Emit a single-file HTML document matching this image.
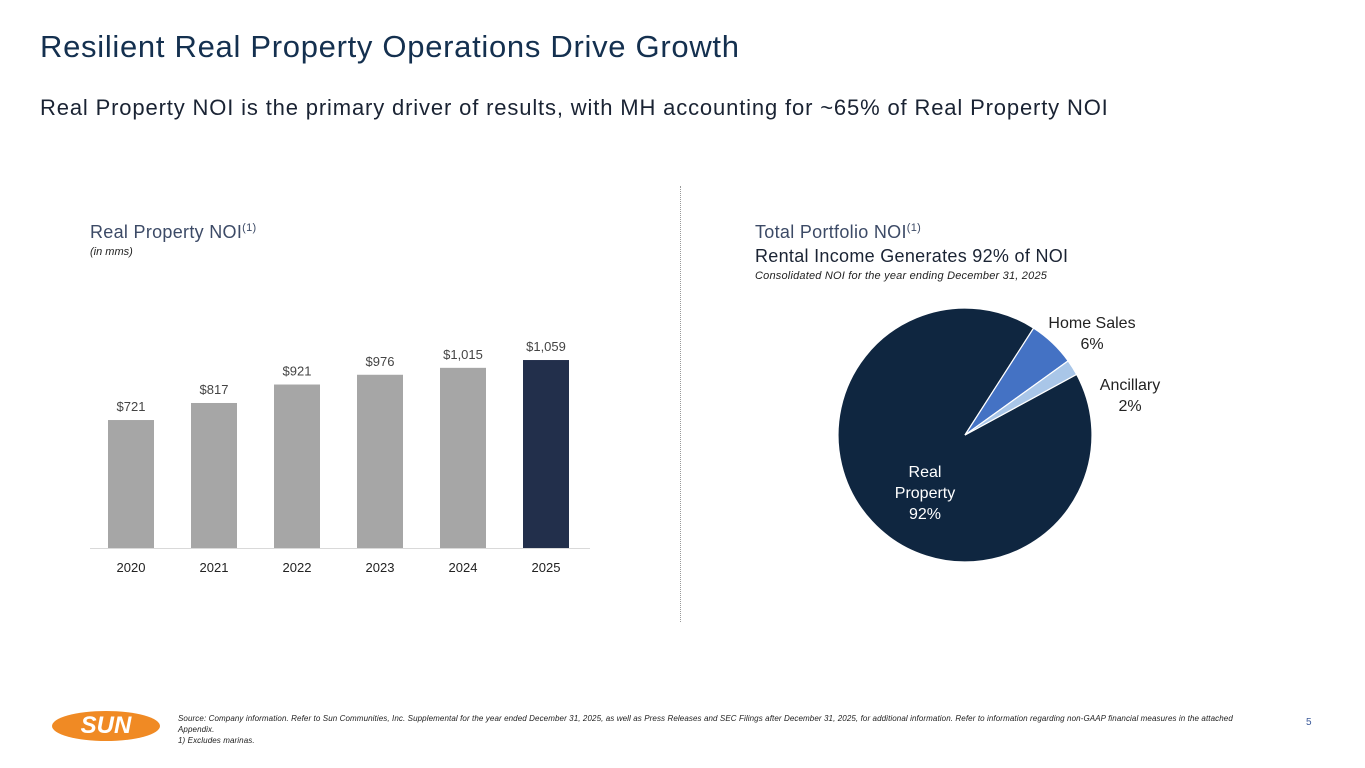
<!DOCTYPE html>
<html><head><meta charset="utf-8"><style>
body{margin:0;width:1365px;height:768px;background:#fff;font-family:"Liberation Sans",sans-serif;overflow:hidden;position:relative}
.a{position:absolute;white-space:nowrap}
</style></head><body>
<div class="a" style="left:40px;top:29px;font-size:31px;letter-spacing:0.7px;color:#14304f">Resilient Real Property Operations Drive Growth</div>
<div class="a" style="left:40px;top:95px;font-size:22px;letter-spacing:0.85px;color:#1a2333">Real Property NOI is the primary driver of results, with MH accounting for ~65% of Real Property NOI</div>
<div class="a" style="left:680px;top:186px;height:436px;border-left:1px dotted #999"></div>
<div class="a" style="left:90px;top:222px;font-size:18px;letter-spacing:0.3px;color:#3c4a66">Real Property NOI<sup style="font-size:11px">(1)</sup></div>
<div class="a" style="left:90px;top:246px;font-size:11px;font-style:italic;color:#222">(in mms)</div>
<div class="a" style="left:755px;top:222px;font-size:18px;letter-spacing:0.3px;color:#3c4a66">Total Portfolio NOI<sup style="font-size:11px">(1)</sup></div>
<div class="a" style="left:755px;top:246px;font-size:18px;letter-spacing:0.3px;color:#1a2333">Rental Income Generates 92% of NOI</div>
<div class="a" style="left:755px;top:270px;font-size:11px;letter-spacing:0.2px;font-style:italic;color:#222">Consolidated NOI for the year ending December 31, 2025</div>
<svg id="c" class="a" style="left:0;top:0" width="1365" height="768"></svg>
<div class="a" style="left:52px;top:711px;width:108px;height:30px;border-radius:50%;background:#f08a24;color:#fff;font-weight:bold;font-size:24px;text-align:center;line-height:30px;font-style:italic">SUN</div>
<div class="a" style="left:178px;top:713px;font-size:8px;letter-spacing:0.1px;font-style:italic;color:#222;line-height:11px;white-space:normal;width:1082px">Source: Company information. Refer to Sun Communities, Inc. Supplemental for the year ended December 31, 2025, as well as Press Releases and SEC Filings after December 31, 2025, for additional information. Refer to information regarding non-GAAP financial measures in the attached Appendix.<br>1) Excludes marinas.</div>
<div class="a" style="left:1306px;top:717px;font-size:10px;color:#3c5a9a">5</div>
<script>
const years=["2020","2021","2022","2023","2024","2025"];
const noi=[721,817,921,976,1015,1059];
const labels=["$721","$817","$921","$976","$1,015","$1,059"];
const pieNames=["Real Property","Home Sales","Ancillary"];
const pieVals=[92,6,2];
const NS="http://www.w3.org/2000/svg",svg=document.getElementById('c');
function mk(t,a){const e=document.createElementNS(NS,t);for(const k in a)e.setAttribute(k,a[k]);svg.appendChild(e);return e;}
const base=548,sc=0.1775;
const y=v=>base-v*sc, x=i=>131+i*83;
const ax=mk('line',{x1:90,x2:590,y1:base+0.5,y2:base+0.5,stroke:'#d9d9d9'});

noi.forEach((v,i)=>{
 const r=mk('rect',{x:x(i)-23,y:y(v),width:46,height:base-y(v),fill:i==noi.length-1?'#222f4b':'#a6a6a6'});
 
 const t=mk('text',{x:x(i),y:y(v)-9,'text-anchor':'middle','font-size':13,fill:'#444'});t.textContent=labels[i];
 
 const l=mk('text',{x:x(i),y:572,'text-anchor':'middle','font-size':13,fill:'#222'});l.textContent=years[i];
 
});
const cx=965,cy=435,R=127,cols=['#0f2640','#4472c4','#a9c6e8'];
const tot=pieVals.reduce((a,b)=>a+b,0);
let ang=32.7-92/tot*360;
const pt=(a,r)=>[cx+r*Math.sin(a*Math.PI/180),cy-r*Math.cos(a*Math.PI/180)];
pieVals.forEach((v,i)=>{
 const s=ang,e=ang+v/tot*360;ang=e;
 const p1=pt(s,R),p2=pt(e,R);
 const p=mk('path',{d:`M${cx},${cy}L${p1[0]},${p1[1]}A${R},${R} 0 ${e-s>180?1:0} 1 ${p2[0]},${p2[1]}Z`,fill:cols[i],stroke:'#fff','stroke-width':1.2});
 
 
});
function lab(lines,xx,yy,col,name){lines.forEach((s,k)=>{const t=mk('text',{x:xx,y:yy+k*21,'text-anchor':'middle','font-size':16,fill:col});t.textContent=s;
 });}
lab(["Real","Property",pieVals[0]+"%"],925,477,'#fff','pie-label-real-property');
lab(["Home Sales",pieVals[1]+"%"],1092,328,'#222','pie-label-home-sales');
lab(["Ancillary",pieVals[2]+"%"],1130,390,'#222','pie-label-ancillary');
</script>
</body></html>
